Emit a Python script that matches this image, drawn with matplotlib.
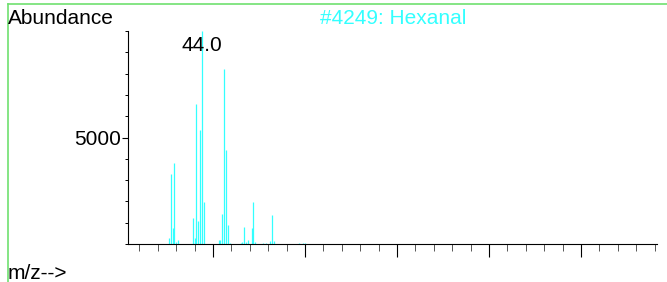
import matplotlib
matplotlib.use('Agg')
import matplotlib.pyplot as plt
from matplotlib.lines import Line2D
from matplotlib.ticker import MultipleLocator

plt.rcParams['font.family'] = ['Liberation Sans', 'DejaVu Sans']

# spectrum
mz = [26, 27, 28, 29, 30, 31,
      39, 40, 41, 42, 43, 44, 45,
      53, 54, 55, 56, 57, 58, 59,
      65, 66, 67, 68, 69, 71, 72, 73,
      77, 79, 81, 82, 83, 97, 99, 100]
abundance = [270, 3290, 770, 3810, 110, 190,
             1210, 280, 6560, 1085, 5330, 10000, 1950,
             190, 190, 1430, 8200, 4390, 900, 60,
             60, 80, 820, 100, 200, 740, 1950, 100,
             40, 40, 150, 1370, 150, 40, 50, 60]
base_peak = 44.0
title = '#4249: Hexanal'

W, H = 667, 282
fig = plt.figure(figsize=(W / 100, H / 100), dpi=100)

# axes placed in pixel units
x0, x1, ytop, ybot = 128, 657, 31, 244
ax = fig.add_axes([x0 / W, (H - ybot) / H, (x1 - x0) / W, (ybot - ytop) / H])

cyan = '#33ffff'
ax.vlines(mz, 0, abundance, colors=cyan, linewidth=0.9)

ax.set_xlim(3.8, 291.3)
ax.set_ylim(0, 10000)

for s in ['top', 'right']:
    ax.spines[s].set_visible(False)
for s in ['left', 'bottom']:
    ax.spines[s].set_linewidth(0.8)

ax.xaxis.set_major_locator(MultipleLocator(50))
ax.xaxis.set_minor_locator(MultipleLocator(10))
ax.yaxis.set_major_locator(MultipleLocator(5000))
ax.yaxis.set_minor_locator(MultipleLocator(1000))
ax.set_yticks([5000])
ax.set_yticklabels(['5000'])
ax.set_xticklabels([])
ax.tick_params(axis='x', which='major', direction='out', length=9, width=0.8)
ax.tick_params(axis='x', which='minor', direction='out', length=5, width=0.7, color='#555555')
ax.tick_params(axis='y', which='major', direction='out', length=4, width=0.8,
               labelsize=15, pad=1)
ax.tick_params(axis='y', which='minor', direction='out', length=2.5, width=0.7)

ax.annotate(f'{base_peak:.1f}', xy=(base_peak, max(abundance)), xytext=(0, -14.2),
            textcoords='offset points', ha='center', va='baseline', fontsize=15)

fig.text(8 / W, 1 - 24 / H, 'Abundance', fontsize=15, ha='left', va='baseline')
fig.text(393 / W, 1 - 24 / H, title, fontsize=15, ha='center', va='baseline', color=cyan)
fig.text(8 / W, 1 - 279 / H, 'm/z-->', fontsize=15, ha='left', va='baseline')

# green frame lines at top and left
green = '#70e070'
fig.add_artist(Line2D([7.5 / W, 1], [1 - 3.5 / H, 1 - 3.5 / H], color=green, lw=1.2,
                      transform=fig.transFigure))
fig.add_artist(Line2D([7.5 / W, 7.5 / W], [0, 1 - 3.5 / H], color=green, lw=1.2,
                      transform=fig.transFigure))

fig.savefig('out.png', dpi=100)
